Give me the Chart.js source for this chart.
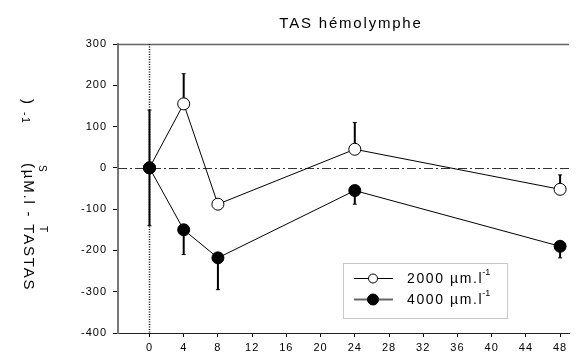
<!DOCTYPE html>
<html>
<head>
<meta charset="utf-8">
<script src="https://cdn.jsdelivr.net/npm/chart.js"></script>
<style>
  body { margin: 0; background: #fff; }
  #wrap { width: 576px; height: 354px; }
</style>
</head>
<body>
<div id="wrap"><canvas id="tasChart"></canvas></div>
<script>
// time after exposure (h)
const hours = [0, 4, 8, 24, 48];
// 2000 µm.l-1 group: means and (upward) error
const low = [0, 155, -88, 45, -52];
const lowErr = [140, 73, 8, 65, 35];
// 4000 µm.l-1 group: means and (downward) error
const high = [0, -150, -218, -55, -190];
const highErr = [140, 60, 77, 33, 28];

const xTicks = [0, 4, 8, 12, 16, 20, 24, 28, 32, 36, 40, 44, 48];
const yTicks = [-400, -300, -200, -100, 0, 100, 200, 300];

const FONT = 'Arial, "Liberation Sans", sans-serif';

function toPoints(vals) {
    return hours.map((h, i) => ({ x: h, y: vals[i] }));
}

// error bars, reference lines and the top frame line
const decorations = {
    id: 'decorations',
    beforeDraw(chart) {
        chart.ctx.letterSpacing = '1px';
    },
    beforeDatasetsDraw(chart) {
        const ctx = chart.ctx;
        const xs = chart.scales.x, ys = chart.scales.y;
        const area = chart.chartArea;
        ctx.save();
        ctx.letterSpacing = '0px';

        // top frame line
        ctx.strokeStyle = '#666';
        ctx.lineWidth = 1.5;
        ctx.beginPath();
        ctx.moveTo(area.left, area.top + 0.5);
        ctx.lineTo(area.right, area.top + 0.5);
        ctx.stroke();

        // dash-dot line at zero
        const y0 = Math.round(ys.getPixelForValue(0)) + 0.5;
        ctx.strokeStyle = '#333';
        ctx.lineWidth = 1;
        ctx.setLineDash([9, 3, 2, 3]);
        ctx.beginPath();
        ctx.moveTo(area.left, y0);
        ctx.lineTo(area.right, y0);
        ctx.stroke();

        // dotted line at t = 0
        const x0 = Math.round(xs.getPixelForValue(0)) + 0.5;
        ctx.strokeStyle = '#000';
        ctx.lineWidth = 1.5;
        ctx.setLineDash([1, 1.5]);
        ctx.beginPath();
        ctx.moveTo(x0, area.top);
        ctx.lineTo(x0, area.bottom);
        ctx.stroke();
        ctx.setLineDash([]);

        // one-sided error bars
        ctx.strokeStyle = '#000';
        ctx.lineWidth = 2;
        const bar = (h, from, to) => {
            const px = xs.getPixelForValue(h);
            const y1 = ys.getPixelForValue(from);
            const y2 = ys.getPixelForValue(to);
            ctx.beginPath();
            ctx.moveTo(px, y1);
            ctx.lineTo(px, y2);
            ctx.stroke();
            ctx.lineWidth = 1;
            ctx.beginPath();
            ctx.moveTo(px - 2, y2);
            ctx.lineTo(px + 2, y2);
            ctx.stroke();
            ctx.lineWidth = 2;
        };
        hours.forEach((h, i) => {
            bar(h, low[i], low[i] + lowErr[i]);
            bar(h, high[i], high[i] - highErr[i]);
        });
        ctx.restore();
    },
    afterDraw(chart) {
        const ctx = chart.ctx;
        ctx.save();
        ctx.fillStyle = '#000';

        // title
        ctx.font = '15px ' + FONT;
        ctx.letterSpacing = '1.8px';
        ctx.textAlign = 'center';
        ctx.textBaseline = 'alphabetic';
        ctx.fillText('TAS hémolymphe', 351, 28);

        // y axis title, rotated clockwise
        const rot = (txt, x, y, size) => {
            ctx.save();
            ctx.translate(x, y);
            ctx.rotate(Math.PI / 2);
            ctx.font = size + 'px ' + FONT;
            ctx.textAlign = 'left';
            ctx.textBaseline = 'middle';
            ctx.fillText(txt, 0, 0);
            ctx.restore();
        };
        ctx.letterSpacing = '1.8px';
        rot(')', 27, 99, 15);
        rot('-1', 25, 112, 10);
        rot('(µM.l - TASTAS', 28, 163, 15);
        rot('S', 42, 165, 10);
        rot('T', 43, 226, 10);

        // legend
        ctx.letterSpacing = '0px';
        ctx.strokeStyle = '#c8c8c8';
        ctx.lineWidth = 1;
        ctx.strokeRect(343.5, 263.5, 164, 55);
        const rows = [
            { y: 278, fill: '#fff', r: 4.5, line: '#000', lw: 1, label: '2000 µm.l' },
            { y: 299, fill: '#000', r: 5.5, line: '#666', lw: 2, label: '4000 µm.l' }
        ];
        rows.forEach(row => {
            ctx.strokeStyle = row.line;
            ctx.lineWidth = row.lw;
            ctx.beginPath();
            ctx.moveTo(354, row.y + 0.5);
            ctx.lineTo(393, row.y + 0.5);
            ctx.stroke();
            ctx.beginPath();
            ctx.arc(373, row.y + 0.5, row.r, 0, Math.PI * 2);
            ctx.fillStyle = row.fill;
            ctx.fill();
            ctx.strokeStyle = '#000';
            ctx.lineWidth = 1;
            ctx.stroke();
            ctx.fillStyle = '#000';
            ctx.font = '14px ' + FONT;
            ctx.letterSpacing = '1.6px';
            ctx.textAlign = 'left';
            ctx.textBaseline = 'middle';
            ctx.fillText(row.label, 407, row.y + 1);
            const w = ctx.measureText(row.label).width;
            ctx.font = '9px ' + FONT;
            ctx.letterSpacing = '0px';
            ctx.fillText('-1', 407 + w - 1, row.y - 5);
        });
        ctx.restore();
    }
};

new Chart(document.getElementById('tasChart'), {
    type: 'line',
    data: {
        datasets: [
            {
                label: '4000 µm.l-1',
                data: toPoints(high),
                borderColor: '#000',
                borderWidth: 1,
                backgroundColor: '#000',
                pointBackgroundColor: '#000',
                pointBorderColor: '#000',
                pointRadius: 6,
                order: 0
            },
            {
                label: '2000 µm.l-1',
                data: toPoints(low),
                borderColor: '#000',
                borderWidth: 1,
                backgroundColor: '#fff',
                pointBackgroundColor: '#fff',
                pointBorderColor: '#000',
                pointBorderWidth: 1,
                pointRadius: 6,
                order: 1
            }
        ]
    },
    options: {
        responsive: true,
        maintainAspectRatio: false,
        animation: false,
        layout: { padding: { top: 44, left: 0, right: 0, bottom: 0 } },
        plugins: {
            legend: { display: false },
            title: { display: false },
            tooltip: { enabled: false }
        },
        scales: {
            x: {
                type: 'linear',
                min: -3.68,
                max: 49.04,
                afterBuildTicks: s => { s.ticks = xTicks.map(v => ({ value: v })); },
                afterFit: s => { s.height = 21; },
                grid: { drawOnChartArea: false, drawTicks: true, tickLength: 4, color: '#000' },
                border: { color: '#222', width: 1 },
                ticks: { color: '#000', font: { family: FONT, size: 11 }, padding: 4, maxRotation: 0 }
            },
            y: {
                min: -400,
                max: 300,
                afterBuildTicks: s => { s.ticks = yTicks.map(v => ({ value: v })); },
                afterFit: s => { s.width = 118; },
                grid: { drawOnChartArea: false, drawTicks: true, tickLength: 5, color: '#000' },
                border: { color: '#777', width: 2 },
                ticks: { color: '#000', font: { family: FONT, size: 11 }, padding: 6 }
            }
        }
    },
    plugins: [decorations]
});
</script>
</body>
</html>
